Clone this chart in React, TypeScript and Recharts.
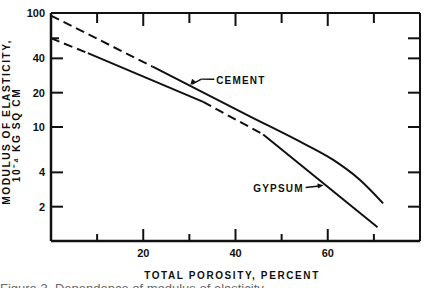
import { LineChart, Line, XAxis, YAxis, ReferenceLine, ReferenceDot } from 'recharts';

// porosity (percent) vs modulus of elasticity (10^-4 kg/sq cm), log scale
const cementDash = [
    { p: 0, v: 95 },
    { p: 22, v: 33.9 },
];
const cementSolid = [
    { p: 22, v: 33.9 },
    { p: 43.1, v: 12.4 },
    { p: 54, v: 7.43 },
    { p: 61.2, v: 5.14 },
    { p: 67, v: 3.43 },
    { p: 72, v: 2.14 },
];
const gypsumDash1 = [
    { p: 0, v: 60 },
    { p: 8, v: 44.5 },
];
const gypsumSolid1 = [
    { p: 8, v: 44.5 },
    { p: 33, v: 16.6 },
];
const gypsumDash2 = [
    { p: 33, v: 16.6 },
    { p: 46, v: 8.6 },
];
const gypsumSolid2 = [
    { p: 46, v: 8.6 },
    { p: 70.8, v: 1.32 },
];

const xTicks = [10, 20, 30, 40, 50, 60, 70];
const yTicks = [2, 4, 10, 20, 40, 60, 100];
const yLabels = [2, 4, 10, 20, 40, 100];

const FONT = '"Liberation Sans", Arial, sans-serif';
const INK = '#111';

const BottomTick = (props: any) => {
    const { x, y, payload } = props;
    const major = payload.value % 20 === 0;
    return (
        <g>
            <line x1={x} y1={y} x2={x} y2={y - (major ? 12 : 7)} stroke={INK} strokeWidth={2} />
            {major && (
                <text x={x} y={y + 16} textAnchor="middle" fontFamily={FONT} fontWeight="bold" fontSize={11} fill={INK}>
                    {payload.value}
                </text>
            )}
        </g>
    );
};

const TopTick = (props: any) => {
    const { x, y, payload } = props;
    const major = payload.value % 20 === 0;
    return <line x1={x} y1={y} x2={x} y2={y + (major ? 13 : 10)} stroke={INK} strokeWidth={2} />;
};

const LeftTick = (props: any) => {
    const { x, y, payload } = props;
    const v = payload.value;
    return (
        <g>
            {v !== 100 && <line x1={x} y1={y} x2={x + (v === 60 ? 8 : 12)} y2={y} stroke={INK} strokeWidth={2} />}
            {yLabels.includes(v) && (
                <text x={x - 6} y={y + 4} textAnchor="end" fontFamily={FONT} fontWeight="bold" fontSize={11} fill={INK}>
                    {v}
                </text>
            )}
        </g>
    );
};

const RightTick = (props: any) => {
    const { x, y, payload } = props;
    if (payload.value === 100) return <g />;
    return <line x1={x} y1={y} x2={x - 12} y2={y} stroke={INK} strokeWidth={2} />;
};

const TextMark = (text: string, anchor: 'start' | 'end') => (props: any) => (
    <text x={props.cx} y={props.cy + 4} textAnchor={anchor} fontFamily={FONT} fontWeight="bold" fontSize={10} letterSpacing={1.2} fill={INK}>
        {text}
    </text>
);

const Arrow = (dx: number, dy: number) => (props: any) => {
    const { cx, cy } = props;
    const len = Math.hypot(dx, dy);
    const ux = dx / len, uy = dy / len;
    const bx = cx - ux * 6, by = cy - uy * 6;
    return (
        <polygon
            points={`${cx},${cy} ${bx - uy * 2.5},${by + ux * 2.5} ${bx + uy * 2.5},${by - ux * 2.5}`}
            fill={INK}
        />
    );
};

const lineProps = {
    dataKey: 'v',
    xAxisId: 'b',
    yAxisId: 'l',
    stroke: INK,
    strokeWidth: 2,
    dot: false,
    activeDot: false,
    isAnimationActive: false,
};

export default function App() {
    return (
        <div style={{ position: 'absolute', left: 0, top: 0, width: 426, height: 288, overflow: 'hidden', background: '#fff' }}>
            <LineChart width={426} height={288} margin={{ top: 0, right: 0, left: 0, bottom: 0 }}>
                <XAxis
                    xAxisId="b"
                    dataKey="p"
                    type="number"
                    domain={[0, 80]}
                    ticks={xTicks}
                    interval={0}
                    height={47}
                    tickSize={0}
                    tickMargin={0}
                    tickLine={false}
                    axisLine={{ stroke: INK, strokeWidth: 2.5 }}
                    tick={<BottomTick />}
                    allowDataOverflow
                />
                <XAxis
                    xAxisId="t"
                    orientation="top"
                    dataKey="p"
                    type="number"
                    domain={[0, 80]}
                    ticks={xTicks}
                    interval={0}
                    height={13}
                    tickSize={0}
                    tickMargin={0}
                    tickLine={false}
                    axisLine={{ stroke: INK, strokeWidth: 2 }}
                    tick={<TopTick />}
                    allowDataOverflow
                />
                <YAxis
                    yAxisId="l"
                    type="number"
                    scale="log"
                    domain={[1, 100]}
                    ticks={yTicks}
                    interval={0}
                    width={51}
                    tickSize={0}
                    tickMargin={0}
                    tickLine={false}
                    axisLine={{ stroke: INK, strokeWidth: 2.5 }}
                    tick={<LeftTick />}
                    allowDataOverflow
                />
                <YAxis
                    yAxisId="r"
                    orientation="right"
                    type="number"
                    scale="log"
                    domain={[1, 100]}
                    ticks={yTicks}
                    interval={0}
                    width={6}
                    tickSize={0}
                    tickMargin={0}
                    tickLine={false}
                    axisLine={{ stroke: INK, strokeWidth: 2 }}
                    tick={<RightTick />}
                    allowDataOverflow
                />

                <Line {...lineProps} data={cementDash} strokeDasharray="9 5" />
                <Line {...lineProps} data={cementSolid} type="monotone" />
                <Line {...lineProps} data={gypsumDash1} strokeDasharray="9 5" />
                <Line {...lineProps} data={gypsumSolid1} />
                <Line {...lineProps} data={gypsumDash2} strokeDasharray="9 5" />
                <Line {...lineProps} data={gypsumSolid2} />

                {/* CEMENT label and leader */}
                <ReferenceLine xAxisId="b" yAxisId="l" segment={[{ x: 35.4, y: 26.2 }, { x: 32.6, y: 26.3 }]} stroke={INK} strokeWidth={1.5} />
                <ReferenceLine xAxisId="b" yAxisId="l" segment={[{ x: 32.6, y: 26.3 }, { x: 30.6, y: 23.8 }]} stroke={INK} strokeWidth={1.5} />
                <ReferenceDot xAxisId="b" yAxisId="l" x={30.2} y={23.3} r={0} shape={Arrow(-4, 5)} />
                <ReferenceDot xAxisId="b" yAxisId="l" x={35.8} y={25.9} r={0} shape={TextMark('CEMENT', 'start')} />

                {/* GYPSUM label and leader */}
                <ReferenceLine xAxisId="b" yAxisId="l" segment={[{ x: 55.2, y: 2.95 }, { x: 58.2, y: 3.03 }]} stroke={INK} strokeWidth={1.5} />
                <ReferenceDot xAxisId="b" yAxisId="l" x={59.1} y={3.08} r={0} shape={Arrow(8, -1)} />
                <ReferenceDot xAxisId="b" yAxisId="l" x={54.8} y={2.9} r={0} shape={TextMark('GYPSUM', 'end')} />
            </LineChart>

            <svg width={426} height={288} style={{ position: 'absolute', left: 0, top: 0, pointerEvents: 'none' }}>
                <text transform="translate(10,122) rotate(-90)" textAnchor="middle" fontFamily={FONT} fontWeight="bold" fontSize={10.2} letterSpacing={1.5} fill={INK}>
                    MODULUS OF ELASTICITY,
                </text>
                <text transform="translate(20,135) rotate(-90)" textAnchor="middle" fontFamily={FONT} fontWeight="bold" fontSize={10.2} letterSpacing={1.6} fill={INK}>
                    10⁻⁴ KG SQ CM
                </text>
                <text x={232} y={279} textAnchor="middle" fontFamily={FONT} fontWeight="bold" fontSize={10} letterSpacing={1.6} fill={INK}>
                    TOTAL POROSITY, PERCENT
                </text>
                <text x={0} y={293} fontFamily={FONT} fontSize={13} fill="#666">
                    Figure 3. Dependence of modulus of elasticity
                </text>
            </svg>
        </div>
    );
}
